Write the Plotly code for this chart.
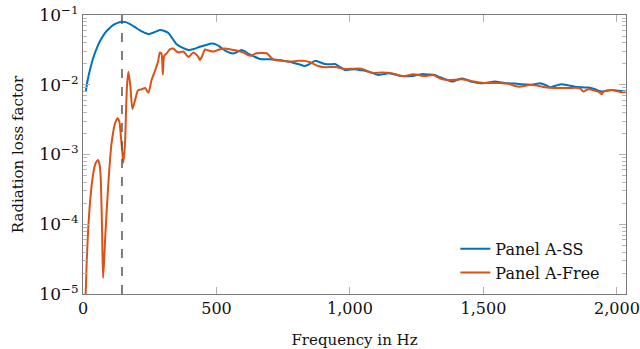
import plotly.graph_objects as go

# ---- data ----
freq_ss = [10, 18, 26, 38, 51, 65, 82, 98, 114, 130, 145, 160, 176, 195, 213, 230, 245, 265, 288, 305, 320,
           335, 351, 372, 395, 415, 438, 460, 482, 498, 513, 538, 563, 580, 594, 607, 619, 640, 663, 700, 731,
           755, 775, 794, 812, 831, 850, 869, 888, 906, 925, 944, 962, 981, 1000, 1019, 1038, 1056, 1080, 1106,
           1125, 1144, 1170, 1194, 1212, 1231, 1250, 1269, 1295, 1318, 1337, 1356, 1372, 1387, 1400, 1418, 1437,
           1456, 1475, 1493, 1518, 1543, 1568, 1593, 1618, 1643, 1662, 1681, 1700, 1712, 1730, 1749, 1770, 1793,
           1818, 1843, 1868, 1893, 1918, 1943, 1962, 1980, 2005, 2033]
val_ss = [0.0079, 0.0120, 0.0163, 0.0240, 0.0330, 0.0430, 0.0550, 0.0640, 0.0720, 0.0770, 0.0800, 0.0790,
          0.0740, 0.0670, 0.0600, 0.0560, 0.0530, 0.0560, 0.0610, 0.0590, 0.0550, 0.0460, 0.0380, 0.0340,
          0.0316, 0.0325, 0.0350, 0.0370, 0.0390, 0.0380, 0.0350, 0.0300, 0.0280, 0.0300, 0.0316, 0.0300,
          0.0280, 0.0255, 0.0234, 0.0232, 0.0226, 0.0220, 0.0214, 0.0203, 0.0195, 0.0186, 0.0200, 0.0220,
          0.0210, 0.0198, 0.0196, 0.0198, 0.0180, 0.0163, 0.0165, 0.0167, 0.0162, 0.0159, 0.0150, 0.0138,
          0.0142, 0.0146, 0.0140, 0.0133, 0.0132, 0.0133, 0.0138, 0.0142, 0.0140, 0.0138, 0.0128, 0.0120,
          0.0114, 0.0111, 0.0117, 0.0123, 0.0118, 0.0110, 0.0107, 0.0105, 0.0108, 0.0111, 0.0108, 0.0105,
          0.0104, 0.0102, 0.0101, 0.0100, 0.0103, 0.0105, 0.0100, 0.0092, 0.0097, 0.0102, 0.0098, 0.0094,
          0.0092, 0.0091, 0.0086, 0.0080, 0.0082, 0.0084, 0.0082, 0.0080]

freq_free = [10, 14, 20, 26, 32, 38, 45, 51, 57, 62, 66, 71, 75, 79, 84, 95, 107, 120, 130, 136, 141, 146,
             151, 155, 158, 161, 165, 170, 177, 185, 195, 206, 220, 232, 245, 257, 270, 281, 288, 294, 299,
             304, 313, 326, 338, 357, 376, 395, 413, 432, 438, 448, 457, 470, 488, 510, 532, 555, 576, 600,
             625, 650, 670, 688, 713, 750, 775, 806, 831, 850, 881, 906, 944, 981, 1010, 1044, 1081, 1119,
             1156, 1200, 1237, 1281, 1312, 1337, 1369, 1395, 1418, 1450, 1493, 1560, 1593, 1631, 1681, 1731,
             1768, 1818, 1855, 1865, 1874, 1893, 1918, 1935, 1943, 1950, 1980, 2017, 2033]
val_free = [1.0e-5, 3.0e-5, 9.3e-5, 2.0e-4, 3.5e-4, 5.2e-4, 7.1e-4, 8.0e-4, 8.3e-4, 7.2e-4, 5.0e-4,
            1.0e-4, 1.7e-5, 3.0e-5, 7.4e-5, 3.9e-4, 1.45e-3, 2.8e-3, 3.3e-3, 3.0e-3, 2.0e-3, 1.2e-3,
            7.6e-4, 1.1e-3, 1.6e-3, 4.0e-3, 1.0e-2, 1.54e-2, 1.0e-2, 4.5e-3, 6.0e-3, 8.3e-3, 8.6e-3,
            9.0e-3, 7.7e-3, 1.17e-2, 1.6e-2, 2.14e-2, 2.9e-2, 2.8e-2, 1.4e-2, 2.6e-2, 2.8e-2, 3.25e-2,
            3.3e-2, 2.9e-2, 3.0e-2, 2.5e-2, 2.9e-2, 2.5e-2, 2.26e-2, 2.68e-2, 3.2e-2, 3.1e-2, 3.0e-2,
            3.2e-2, 3.3e-2, 3.2e-2, 3.1e-2, 2.9e-2, 2.6e-2, 2.83e-2, 2.85e-2, 2.83e-2, 2.3e-2, 2.19e-2,
            2.14e-2, 2.2e-2, 2.2e-2, 2.1e-2, 1.86e-2, 1.78e-2, 1.8e-2, 1.68e-2, 1.7e-2, 1.7e-2, 1.48e-2,
            1.5e-2, 1.46e-2, 1.33e-2, 1.41e-2, 1.33e-2, 1.38e-2, 1.23e-2, 1.17e-2, 1.18e-2, 1.2e-2,
            1.14e-2, 1.07e-2, 1.06e-2, 1.03e-2, 9.4e-3, 1.0e-2, 9.2e-3, 9.0e-3, 9.0e-3, 9.0e-3, 8.7e-3,
            8.0e-3, 8.6e-3, 8.2e-3, 7.8e-3, 7.3e-3, 8.0e-3, 8.4e-3, 7.8e-3, 7.8e-3]

cutoff_freq = 146
series_names = ["Panel A-SS", "Panel A-Free"]
series_colors = ["#0072BD", "#D95319"]

y_tickvals = [1e-5, 1e-4, 1e-3, 1e-2, 1e-1]
y_ticktext = ["10<sup>−5</sup>", "10<sup>−4</sup>", "10<sup>−3</sup>", "10<sup>−2</sup>", "10<sup>−1</sup>"]
y_minor_vals = [m * 10.0 ** e for e in range(-5, -1) for m in range(2, 10)]
x_tickvals = [0, 500, 1000, 1500, 2000]
x_ticktext = ["0", "500", "1,000", "1,500", "2,000"]

FONT = "DejaVu Serif"

fig = go.Figure()
for fx, fy, name, col in [(freq_ss, val_ss, series_names[0], series_colors[0]),
                          (freq_free, val_free, series_names[1], series_colors[1])]:
    fig.add_trace(go.Scatter(x=fx, y=fy, name=name, mode="lines",
                             line=dict(color=col, width=2, shape="spline", smoothing=0.6)))

fig.add_shape(type="line", x0=cutoff_freq, x1=cutoff_freq, xref="x", y0=0, y1=1, yref="paper",
              line=dict(color="#555555", width=1.5, dash="dash"))

axis_common = dict(showline=True, linecolor="#7a7a7a", linewidth=1.2, mirror="ticks",
                   ticks="inside", tickcolor="#b0b0b0", ticklen=7, showgrid=False, zeroline=False,
                   automargin=False)

fig.update_xaxes(range=[0, 2034], tickvals=x_tickvals, ticktext=x_ticktext,
                 tickfont=dict(family=FONT, size=16, color="#111"),
                 title=dict(text="Frequency in Hz", font=dict(family=FONT, size=15, color="#111"), standoff=17),
                 **axis_common)
fig.update_yaxes(type="log", range=[-5, -1], tickvals=y_tickvals, ticktext=y_ticktext,
                 tickfont=dict(family=FONT, size=17, color="#111"),
                 title=dict(text="Radiation loss factor", font=dict(family=FONT, size=15, color="#111"), standoff=12),
                 minor=dict(ticks="inside", ticklen=4, tickcolor="#b8b8b8", tickvals=y_minor_vals, showgrid=False),
                 **axis_common)

fig.update_layout(width=640, height=349, margin=dict(l=83, r=14, t=15, b=55, autoexpand=False),
                  plot_bgcolor="white", paper_bgcolor="white",
                  font=dict(family=FONT, size=16, color="#111"),
                  legend=dict(x=0.962, xanchor="right", y=0.015, yanchor="bottom",
                              bgcolor="rgba(255,255,255,0)", font=dict(family=FONT, size=16),
                              tracegroupgap=0, itemwidth=30),
                  showlegend=True)

fig.write_html("out.html")
